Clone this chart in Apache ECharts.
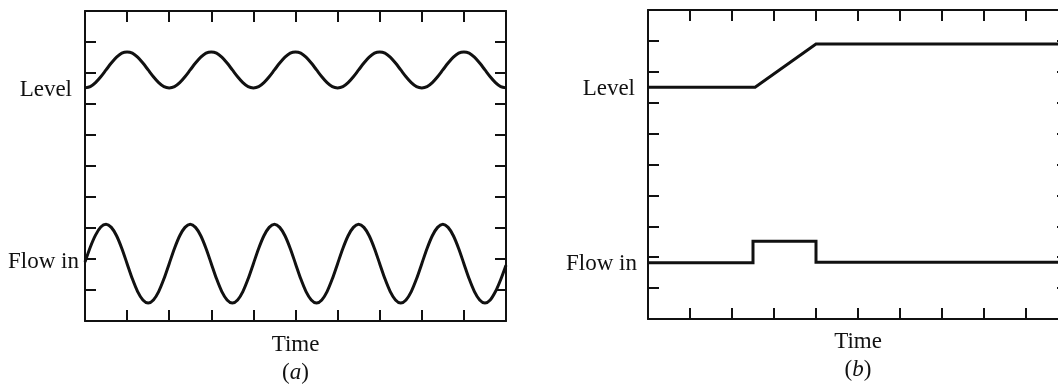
<!DOCTYPE html>
<html>
<head>
<meta charset="utf-8">
<script src="https://cdn.jsdelivr.net/npm/echarts@6/dist/echarts.min.js"></script>
<style>
html,body{margin:0;padding:0;background:#fff;}
#c{width:1058px;height:387px;}
</style>
</head>
<body>
<div id="c"></div>
<script>
// ---- data ----
// panel (a): time in tick units, sampled every eighth of a tick
var timeA = [0,0.125,0.25,0.375,0.5,0.625,0.75,0.875,1,1.125,1.25,1.375,1.5,1.625,1.75,1.875,
             2,2.125,2.25,2.375,2.5,2.625,2.75,2.875,3,3.125,3.25,3.375,3.5,3.625,3.75,3.875,
             4,4.125,4.25,4.375,4.5,4.625,4.75,4.875,5,5.125,5.25,5.375,5.5,5.625,5.75,5.875,
             6,6.125,6.25,6.375,6.5,6.625,6.75,6.875,7,7.125,7.25,7.375,7.5,7.625,7.75,7.875,
             8,8.125,8.25,8.375,8.5,8.625,8.75,8.875,9,9.125,9.25,9.375,9.5,9.625,9.75,9.875,10];
var levelA = [7.52,7.56,7.69,7.88,8.10,8.32,8.51,8.64,8.68,8.64,8.51,8.32,8.10,7.88,7.69,7.56,
              7.52,7.56,7.69,7.88,8.10,8.32,8.51,8.64,8.68,8.64,8.51,8.32,8.10,7.88,7.69,7.56,
              7.52,7.56,7.69,7.88,8.10,8.32,8.51,8.64,8.68,8.64,8.51,8.32,8.10,7.88,7.69,7.56,
              7.52,7.56,7.69,7.88,8.10,8.32,8.51,8.64,8.68,8.64,8.51,8.32,8.10,7.88,7.69,7.56,
              7.52,7.56,7.69,7.88,8.10,8.32,8.51,8.64,8.68,8.64,8.51,8.32,8.10,7.88,7.69,7.56,7.52];
var flowA  = [1.90,2.38,2.77,3.03,3.12,3.02,2.75,2.34,1.85,1.36,0.95,0.68,0.58,0.68,0.95,1.36,
              1.85,2.34,2.75,3.02,3.12,3.02,2.75,2.34,1.85,1.36,0.95,0.68,0.58,0.68,0.95,1.36,
              1.85,2.34,2.75,3.02,3.12,3.02,2.75,2.34,1.85,1.36,0.95,0.68,0.58,0.68,0.95,1.36,
              1.85,2.34,2.75,3.02,3.12,3.02,2.75,2.34,1.85,1.36,0.95,0.68,0.58,0.68,0.95,1.36,
              1.85,2.34,2.75,3.02,3.12,3.02,2.75,2.34,1.85,1.36,0.95,0.68,0.58,0.68,0.95,1.34,1.80];
// panel (b)
var levelBTime = [0,2.55,4.0,10];
var levelB     = [7.5,7.5,8.9,8.9];
var flowBTime  = [0,2.5,2.5,4.0,4.0,10];
var flowB      = [1.82,1.82,2.52,2.52,1.84,1.84];
// axis text
var rowNames = ['Level','Flow in'];
var rowPosA  = [7.45,1.9];
var rowPosB  = [7.45,1.78];
var xName = 'Time';
var panelTags = ['a','b'];

function pairs(xs, ys){ return xs.map(function(x,i){ return [x, ys[i]]; }); }

var FONT = 'Liberation Serif';
var FS = 23;
var FW = 'normal';
var INK = '#111';

function xAx(gi, pos, withName, tag, gap){
  var o = {
    type:'value', gridIndex:gi, position:pos, min:0, max:10, interval:1,
    axisLine:{show:true, onZero:false, lineStyle:{color:INK, width:2}},
    axisTick:{show:true, inside:true, length:11, lineStyle:{color:INK, width:2}},
    axisLabel:{show:false}, splitLine:{show:false}
  };
  if (withName){
    o.name = '{t|' + xName + '}\n{p|(}{i|' + tag + '}{p|)}';
    o.nameLocation = 'middle';
    o.nameGap = gap;
    o.nameTextStyle = {
      verticalAlign:'top',
      rich:{
        t:{fontFamily:FONT, fontSize:FS, fontWeight:FW, color:INK, lineHeight:28},
        p:{fontFamily:FONT, fontSize:FS, fontWeight:FW, color:INK, lineHeight:28},
        i:{fontFamily:FONT, fontSize:FS, fontWeight:FW, color:INK, fontStyle:'italic', lineHeight:28}
      }
    };
  }
  return o;
}
function yAx(gi, pos, labelPos, margin, levelPad){
  var o = {
    type:'value', gridIndex:gi, position:pos, min:0, max:10, interval:1,
    axisLine:{show:true, onZero:false, lineStyle:{color:INK, width:2}},
    axisTick:{show:true, inside:true, length:11, lineStyle:{color:INK, width:2}},
    axisLabel:{show:false}, splitLine:{show:false}
  };
  if (labelPos){
    o.axisLabel = {
      show:true, customValues:labelPos, margin:margin,
      fontFamily:FONT, fontSize:FS, fontWeight:FW, color:INK,
      rich:{
        r0:{fontFamily:FONT, fontSize:FS, color:INK, padding:[0, levelPad, 0, 0]},
        r1:{fontFamily:FONT, fontSize:FS, color:INK}
      },
      formatter:function(v){
        for (var i=0;i<labelPos.length;i++){
          if (Math.abs(labelPos[i]-v)<1e-6) return '{r' + i + '|' + rowNames[i] + '}';
        }
        return '';
      }
    };
  }
  return o;
}

var chart = echarts.init(document.getElementById('c'), null, {renderer:'canvas'});
chart.setOption({
  backgroundColor:'#fff',
  animation:false,
  grid:[
    {left:85, top:11, width:421, height:310, outerBoundsMode:'none', containLabel:false},
    {left:648, top:10, width:420, height:309, outerBoundsMode:'none', containLabel:false}
  ],
  xAxis:[ xAx(0,'bottom',true,panelTags[0],10), xAx(0,'top',false),
          xAx(1,'bottom',true,panelTags[1],9), xAx(1,'top',false) ],
  yAxis:[ yAx(0,'left',rowPosA,6,7), yAx(0,'right',null),
          yAx(1,'left',rowPosB,11,2), yAx(1,'right',null) ],
  series:[
    {type:'line', xAxisIndex:0, yAxisIndex:0, data:pairs(timeA, levelA), smooth:0.3, showSymbol:false,
     lineStyle:{color:INK, width:3}},
    {type:'line', xAxisIndex:0, yAxisIndex:0, data:pairs(timeA, flowA), smooth:0.3, showSymbol:false,
     lineStyle:{color:INK, width:3}},
    {type:'line', xAxisIndex:2, yAxisIndex:2, data:pairs(levelBTime, levelB), showSymbol:false,
     lineStyle:{color:INK, width:3, join:'miter'}},
    {type:'line', xAxisIndex:2, yAxisIndex:2, data:pairs(flowBTime, flowB), showSymbol:false,
     lineStyle:{color:INK, width:3, join:'miter'}}
  ]
});
</script>
</body>
</html>
